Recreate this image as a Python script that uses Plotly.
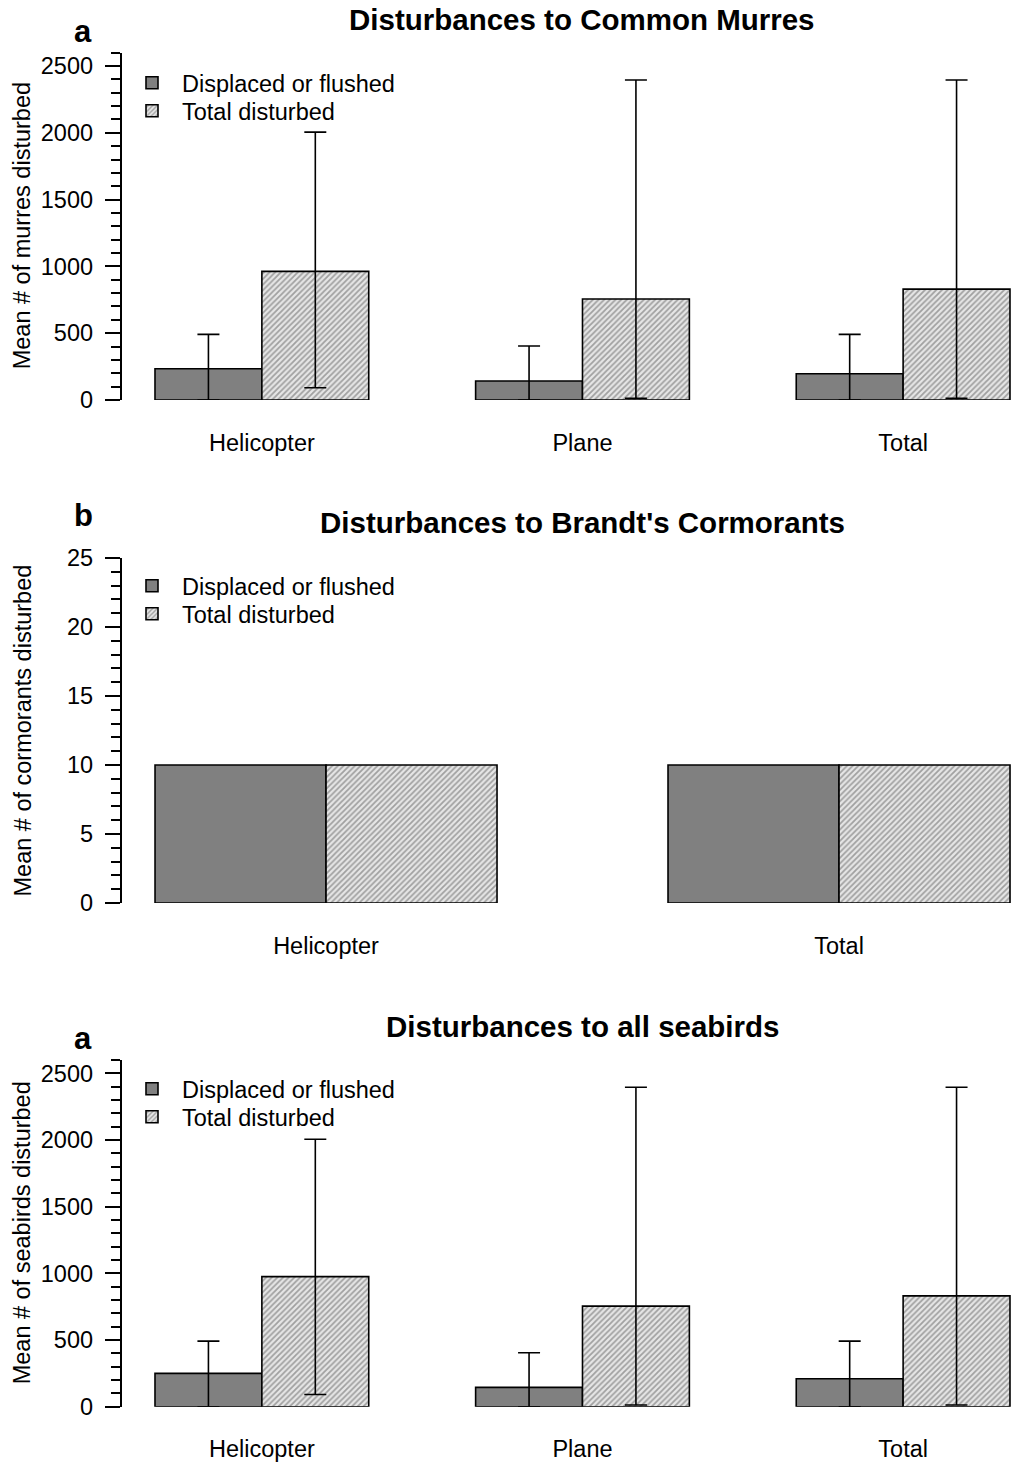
import plotly.graph_objects as go

W, H = 1012, 1469

# ---------------- data ----------------
cats_a = ["Helicopter", "Plane", "Total"]
murre_displaced = [234, 142, 197]
murre_displaced_hi = [491, 404, 491]
murre_displaced_lo = [0, 0, 0]
murre_total = [963, 756, 830]
murre_total_hi = [2005, 2395, 2395]
murre_total_lo = [92, 13, 13]

cats_b = ["Helicopter", "Total"]
corm_displaced = [10, 10]
corm_total = [10, 10]

cats_c = ["Helicopter", "Plane", "Total"]
sea_displaced = [250, 145, 210]
sea_displaced_hi = [492, 404, 492]
sea_displaced_lo = [0, 0, 0]
sea_total = [975, 754, 831]
sea_total_hi = [2005, 2395, 2395]
sea_total_lo = [92, 13, 13]

series_names = ["Displaced or flushed", "Total disturbed"]
titles = ["Disturbances to Common Murres", "Disturbances to Brandt's Cormorants",
          "Disturbances to all seabirds"]
panel_letters = ["a", "b", "a"]
ytitles = ["Mean # of murres disturbed", "Mean # of cormorants disturbed",
           "Mean # of seabirds disturbed"]

FONT = "Liberation Sans, Arial, sans-serif"
FS = 23.5
DARK = "#808080"

def py(p):
    return 1 - p / H

def px(p):
    return p / W

fig = go.Figure()

def err(means, hi, lo):
    return dict(type="data", symmetric=False,
                array=[h - m for h, m in zip(hi, means)],
                arrayminus=[m - l for m, l in zip(means, lo)],
                color="black", thickness=1.6, width=11)

hatch = dict(shape="/", fgcolor="#5a5a5a", bgcolor="#e6e6e6", size=4, solidity=0.45)

panels = [
    dict(cats=cats_a, d=murre_displaced, t=murre_total,
         ed=err(murre_displaced, murre_displaced_hi, murre_displaced_lo),
         et=err(murre_total, murre_total_hi, murre_total_lo),
         yrange=[0, 2600], dtick=500, mdtick=100, ybot=400, ytop=400 - 2600 * 0.1336,
         xrange=[-0.4378, 2.3396], leg_y=83),
    dict(cats=cats_b, d=corm_displaced, t=corm_total, ed=None, et=None,
         yrange=[0, 25], dtick=5, mdtick=1, ybot=903, ytop=558,
         xrange=[-0.3987, 1.3372], leg_y=586),
    dict(cats=cats_c, d=sea_displaced, t=sea_total,
         ed=err(sea_displaced, sea_displaced_hi, sea_displaced_lo),
         et=err(sea_total, sea_total_hi, sea_total_lo),
         yrange=[0, 2600], dtick=500, mdtick=100, ybot=1406.7, ytop=1406.7 - 2600 * 0.13336,
         xrange=[-0.4378, 2.3396], leg_y=1089),
]

title_y = [19, 522, 1026]
letter_y = [32, 515, 1038]
annotations = []
layout_axes = {}
leg_count = 0
for i, p in enumerate(panels):
    n = "" if i == 0 else str(i + 1)
    xa, ya = "x" + n, "y" + n
    leg_names = []
    for k in range(2):
        leg_count += 1
        leg_names.append("legend" if leg_count == 1 else "legend" + str(leg_count))
    fig.add_trace(go.Bar(
        x=p["cats"], y=p["d"], name=series_names[0], xaxis=xa, yaxis=ya,
        marker=dict(color=DARK, line=dict(color="black", width=1.6)),
        error_y=p["ed"], legend=leg_names[0], showlegend=True))
    fig.add_trace(go.Bar(
        x=p["cats"], y=p["t"], name=series_names[1], xaxis=xa, yaxis=ya,
        marker=dict(color="#ffffff", pattern=hatch, line=dict(color="black", width=1.6)),
        error_y=p["et"], legend=leg_names[1], showlegend=True))

    layout_axes["xaxis" + n] = dict(
        domain=[px(121.5), 1.0], anchor=ya, range=p["xrange"], type="category",
        showline=False, showgrid=False, zeroline=False, ticks="",
        ticklabelstandoff=26, tickfont=dict(family=FONT, size=FS, color="black"))
    layout_axes["yaxis" + n] = dict(
        domain=[py(p["ybot"]), py(p["ytop"])], anchor=xa, range=p["yrange"],
        showline=True, linecolor="black", linewidth=1.5, showgrid=False, zeroline=False,
        ticks="outside", ticklen=15, tickwidth=1.5, tickcolor="black", dtick=p["dtick"],
        tick0=0, ticklabelstandoff=7, tickfont=dict(family=FONT, size=FS, color="black"),
        minor=dict(dtick=p["mdtick"], ticks="outside", ticklen=9, tickwidth=1.5,
                   tickcolor="black", showgrid=False))
    for k, ln in enumerate(leg_names):
        layout_axes[ln] = dict(
            x=px(122), y=py(p["leg_y"] + 28 * k), xanchor="left", yanchor="middle",
            bgcolor="rgba(0,0,0,0)", itemwidth=50,
            font=dict(family=FONT, size=FS, color="black"))

    annotations.append(dict(text=titles[i], x=px(582), y=py(title_y[i]), xref="paper",
                            yref="paper", showarrow=False, xanchor="center", yanchor="middle",
                            font=dict(family=FONT, size=29.5, color="black", weight="bold")))
    annotations.append(dict(text=panel_letters[i], x=px(83), y=py(letter_y[i]), xref="paper",
                            yref="paper", showarrow=False, xanchor="center", yanchor="middle",
                            font=dict(family=FONT, size=31, color="black", weight="bold")))
    annotations.append(dict(text=ytitles[i], x=px(22), y=py((p["ybot"] + p["ytop"]) / 2),
                            xref="paper", yref="paper", showarrow=False, textangle=-90,
                            xanchor="center", yanchor="middle",
                            font=dict(family=FONT, size=FS, color="black")))

fig.update_layout(
    width=W, height=H, margin=dict(l=0, r=0, t=0, b=0, autoexpand=False),
    paper_bgcolor="white", plot_bgcolor="white",
    barmode="group", bargap=1 / 3, bargroupgap=0,
    annotations=annotations, **layout_axes)

fig.write_html("out.html", config={"displayModeBar": False},
               post_script="document.body.style.margin='0';")
